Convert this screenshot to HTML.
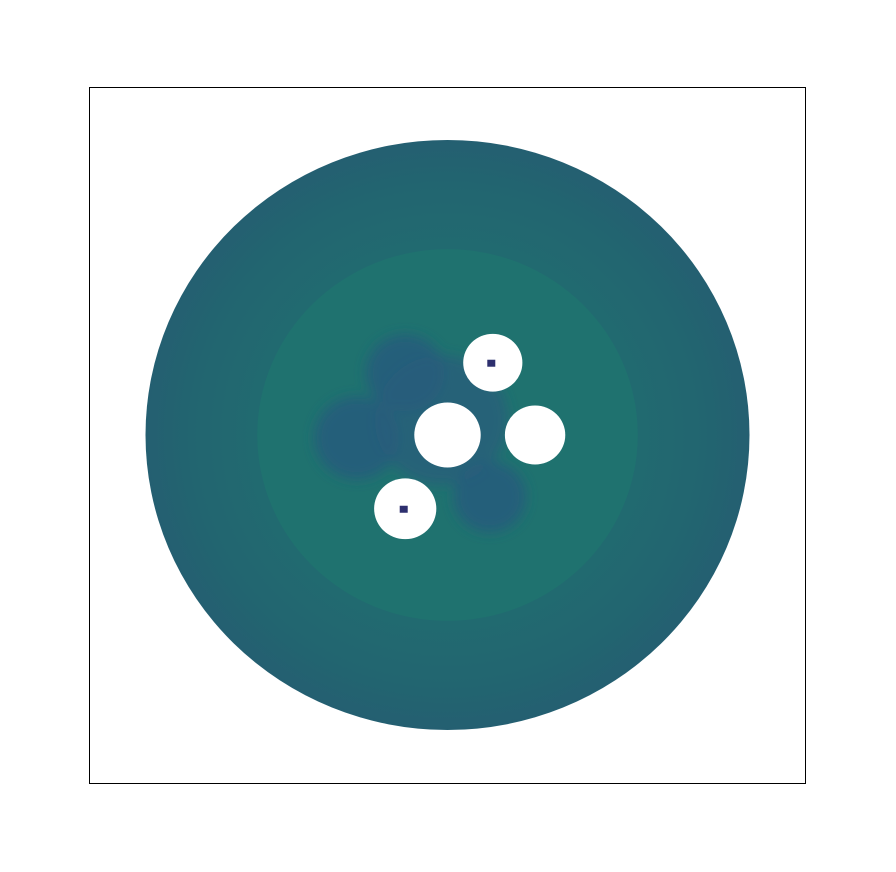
<!DOCTYPE html>
<html><head><meta charset="utf-8"><style>
html,body{margin:0;padding:0;background:#fff;}
svg{display:block;}
</style></head><body>
<svg id="chart" width="896" height="872">
<defs>
<filter id="blur" x="-50%" y="-50%" width="200%" height="200%"><feGaussianBlur stdDeviation="6"/></filter>
<radialGradient id="outerGrad" cx="0.5" cy="0.5" r="0.5">
<stop offset="0.6" stop-color="#216b70"/>
<stop offset="0.85" stop-color="#226570"/>
<stop offset="1" stop-color="#245f71"/>
</radialGradient>
<clipPath id="axclip"><rect x="89" y="87" width="717" height="696"/></clipPath>
</defs>
<g id="plot" clip-path="url(#axclip)"></g>
<rect x="89.5" y="87.5" width="716" height="696" fill="none" stroke="#000" stroke-width="1"/>
</svg>
<script>
// data-space: unit disc, x/y in [-1,1]
const ringRadii = [1.0, 0.63];
const ringColors = ["url(#outerGrad)", "#1f726f"];
const blobX = [-0.14, -0.30, 0.14, -0.02];
const blobY = [0.21, -0.01, -0.21, 0.05];
const blobR = [0.13, 0.14, 0.12, 0.22];
const holeX = [0.0, 0.29, 0.15, -0.14];
const holeY = [0.0, 0.0, 0.245, -0.25];
const holeR = [0.11, 0.10, 0.098, 0.103];
const dotX = [0.145, -0.145];
const dotY = [0.245, -0.25];

const cx = 447.5, cy = 435, rx = 302, ry = 295;
const X = v => cx + v * rx;
const Y = v => cy - v * ry;
const NS = "http://www.w3.org/2000/svg";
const g = document.getElementById("plot");
function mk(tag, attrs, parent) {
  const e = document.createElementNS(NS, tag);
  for (const k in attrs) e.setAttribute(k, attrs[k]);
  (parent || g).appendChild(e);
  return e;
}
ringRadii.forEach((r, i) => {
  const e = mk("ellipse", {cx: X(0), cy: Y(0), rx: r * rx, ry: r * ry, fill: ringColors[i]});
  
  
});
const bg = mk("g", {filter: "url(#blur)"});


blobX.forEach((bx, i) => {
  const e = mk("ellipse", {cx: X(bx), cy: Y(blobY[i]), rx: blobR[i] * rx, ry: blobR[i] * ry, fill: "#275c7c", opacity: i === 3 ? 0.7 : 0.85}, bg);
  
  
});
holeX.forEach((hx, i) => {
  const e = mk("ellipse", {cx: X(hx), cy: Y(holeY[i]), rx: holeR[i] * rx, ry: holeR[i] * ry, fill: "#ffffff"});
  
  
});
dotX.forEach((dx, i) => {
  const e = mk("rect", {x: X(dx) - 4, y: Y(dotY[i]) - 3, width: 8, height: 7, fill: "#2d2f6e"});
  
  
});
</script>
</body></html>
